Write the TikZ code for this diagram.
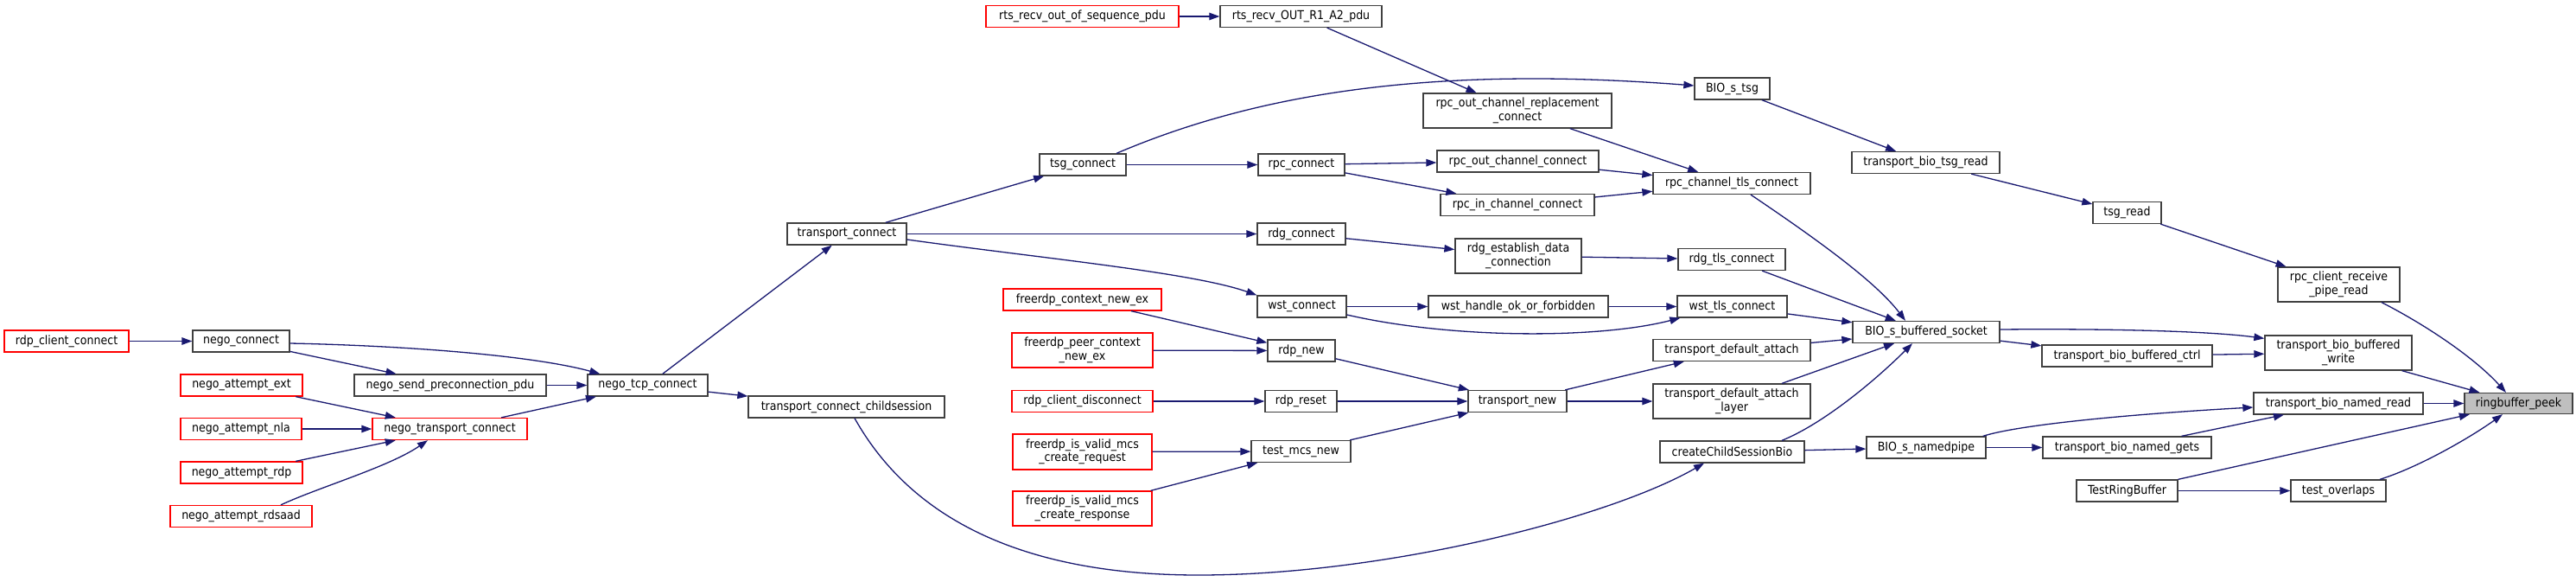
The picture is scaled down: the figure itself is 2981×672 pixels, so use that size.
\documentclass[tikz,border=0pt]{standalone}
\usepackage{fontspec}
\newfontfamily\fnfamily{DejaVu Sans Condensed}
\usetikzlibrary{arrows.meta,calc}
\definecolor{edgeblue}{HTML}{191970}
\definecolor{boxgrey}{HTML}{404040}
\definecolor{rootfill}{HTML}{BFBFBF}
\tikzset{
  fn/.style={draw=boxgrey, fill=white, line width=1.3pt, inner sep=0pt, align=center,
    minimum height=25pt, font=\fnfamily\fontsize{14}{15.5}\selectfont},
  fnred/.style={fn, draw=red},
  fnroot/.style={fn, fill=rootfill},
  call/.style={draw=edgeblue, line width=1.3pt, -{Triangle[length=12pt,width=8.5pt]}},
}
\begin{document}
\begin{tikzpicture}[x=1pt,y=-1pt]
\useasboundingbox (0,0) rectangle (2981,672);
% rank 12..9
\node[fnred, minimum width=144pt] (rcc) at (77,394.5) {rdp\_client\_connect};
\node[fn, minimum width=112pt] (nc) at (279,394.5) {nego\_connect};
\node[fnred, minimum width=141pt] (nae) at (279.5,445.5) {nego\_attempt\_ext};
\node[fnred, minimum width=140pt] (nan) at (279,496) {nego\_attempt\_nla};
\node[fnred, minimum width=141pt] (nar) at (279.5,546.5) {nego\_attempt\_rdp};
\node[fnred, minimum width=164pt] (nard) at (279,597) {nego\_attempt\_rdsaad};
\node[fn, minimum width=222pt] (nsp) at (521,445.5) {nego\_send\_preconnection\_pdu};
\node[fnred, minimum width=179pt] (ntrc) at (520.5,496) {nego\_transport\_connect};
\node[fn, minimum width=139pt] (ntc) at (749.5,445.5) {nego\_tcp\_connect};
% rank 8
\node[fn, minimum width=138pt] (tc) at (980,270.5) {transport\_connect};
\node[fn, minimum width=227pt] (tcc) at (979.5,470.5) {transport\_connect\_childsession};
% rank 7
\node[fnred, minimum width=223pt] (rtsoos) at (1252.5,19) {rts\_recv\_out\_of\_sequence\_pdu};
\node[fn, minimum width=100pt] (tsg) at (1253,190.5) {tsg\_connect};
\node[fnred, minimum width=183pt] (fcn) at (1252.5,346.5) {freerdp\_context\_new\_ex};
\node[fnred, minimum width=163pt, minimum height=40pt] (fpcn) at (1252.5,405) {freerdp\_peer\_context\\\_new\_ex};
\node[fnred, minimum width=163pt] (rcd) at (1252.5,464) {rdp\_client\_disconnect};
\node[fnred, minimum width=161pt, minimum height=41pt] (mreq) at (1252.5,522.5) {freerdp\_is\_valid\_mcs\\\_create\_request};
\node[fnred, minimum width=161pt, minimum height=40pt] (mres) at (1252.5,588) {freerdp\_is\_valid\_mcs\\\_create\_response};
% rank 6
\node[fn, minimum width=187pt] (rtsr1) at (1505.5,19) {rts\_recv\_OUT\_R1\_A2\_pdu};
\node[fn, minimum width=100pt] (rpcc) at (1506,190.5) {rpc\_connect};
\node[fn, minimum width=102pt] (rdgc) at (1506,270.5) {rdg\_connect};
\node[fn, minimum width=103pt] (wstc) at (1506.5,354.5) {wst\_connect};
\node[fn, minimum width=78pt] (rdpn) at (1506,405.5) {rdp\_new};
\node[fn, minimum width=83pt] (rdpr) at (1505.5,464) {rdp\_reset};
\node[fn, minimum width=115pt] (tmn) at (1505.5,522) {test\_mcs\_new};
% rank 5
\node[fn, minimum width=218pt, minimum height=40pt] (rocrc) at (1756,128) {rpc\_out\_channel\_replacement\\\_connect};
\node[fn, minimum width=187pt] (rocc) at (1756.5,186.5) {rpc\_out\_channel\_connect};
\node[fn, minimum width=178pt] (ricc) at (1756,237) {rpc\_in\_channel\_connect};
\node[fn, minimum width=146pt, minimum height=40pt] (rgedc) at (1757,296) {rdg\_establish\_data\\\_connection};
\node[fn, minimum width=208pt] (wsth) at (1757,354.5) {wst\_handle\_ok\_or\_forbidden};
\node[fn, minimum width=114pt] (tn) at (1756,464) {transport\_new};
% rank 4
\node[fn, minimum width=87pt] (biotsg) at (2004.5,102.5) {BIO\_s\_tsg};
\node[fn, minimum width=182pt] (rctc) at (2004,212) {rpc\_channel\_tls\_connect};
\node[fn, minimum width=124pt] (rgtc) at (2004,300) {rdg\_tls\_connect};
\node[fn, minimum width=127pt] (wstt) at (2004.5,354.5) {wst\_tls\_connect};
\node[fn, minimum width=182pt] (tda) at (2004,405) {transport\_default\_attach};
\node[fn, minimum width=182pt, minimum height=40pt] (tdal) at (2004,464) {transport\_default\_attach\\\_layer};
\node[fn, minimum width=167pt] (ccsb) at (2004.5,522.5) {createChildSessionBio};
% rank 3
\node[fn, minimum width=171pt] (tbtr) at (2228.5,188) {transport\_bio\_tsg\_read};
\node[fn, minimum width=170pt] (bbs) at (2229,384) {BIO\_s\_buffered\_socket};
\node[fn, minimum width=138pt] (bnp) at (2229,517.5) {BIO\_s\_namedpipe};
% rank 2
\node[fn, minimum width=79pt] (tsgr) at (2461.5,246) {tsg\_read};
\node[fn, minimum width=197pt] (tbbc) at (2461.5,411.5) {transport\_bio\_buffered\_ctrl};
\node[fn, minimum width=195pt] (tbng) at (2461.5,517.5) {transport\_bio\_named\_gets};
\node[fn, minimum width=117pt] (trb) at (2461.5,567.5) {TestRingBuffer};
% rank 1
\node[fn, minimum width=141pt, minimum height=40pt] (rcrp) at (2706.5,329) {rpc\_client\_receive\\\_pipe\_read};
\node[fn, minimum width=170pt, minimum height=40pt] (tbbw) at (2706,408) {transport\_bio\_buffered\\\_write};
\node[fn, minimum width=196pt] (tbnr) at (2706,466.5) {transport\_bio\_named\_read};
\node[fn, minimum width=110pt] (tov) at (2706,567.5) {test\_overlaps};
% rank 0
\node[fnroot, minimum width=125pt, minimum height=24pt] (rb) at (2914.5,466.5) {ringbuffer\_peek};

% edges
\draw[call] (rcc) -- (nc);
\draw[call] ($(nc.east)+(0,2.5)$) .. controls (480,400) and (620,412) .. ($(ntc.north west)+(15,0)$);
\draw[call] (nc) -- (nsp);
\draw[call] (nsp) -- (ntc);
\draw[call] (nae) -- (ntrc);
\draw[call] (nan) -- (ntrc);
\draw[call] (nar) -- (ntrc);
\draw[call] ($(nard.north)+(46,0)$) .. controls (370,563) and (450,540) .. ($(ntrc.south)+(-25.5,0)$);
\draw[call] (ntrc) -- (ntc);
\draw[call] (ntc) -- (tc);
\draw[call] (ntc) -- (tcc);
\draw[call] (tc) -- (tsg);
\draw[call] (tc) -- (rdgc);
\draw[call] ($(tc.east)+(0,6.5)$) .. controls (1200,298) and (1380,315) .. (wstc.north west);
\draw[call] (tsg) -- (rpcc);
\draw[call] ($(tsg.north)+(39,0)$) .. controls (1450,110) and (1650,75) .. ($(biotsg.west)+(0,-3.5)$);
\draw[call] (rpcc) -- (rocc);
\draw[call] (rpcc) -- (ricc);
\draw[call] (rtsoos) -- (rtsr1);
\draw[call] (rtsr1) -- (rocrc);
\draw[call] (rocrc) -- (rctc);
\draw[call] (rocc) -- (rctc);
\draw[call] (ricc) -- (rctc);
\draw[call] (rdgc) -- (rgedc);
\draw[call] (rgedc) -- (rgtc);
\draw[call] (wstc) -- (wsth);
\draw[call] (wsth) -- (wstt);
\draw[call] ($(wstc.east)+(0,9.5)$) .. controls (1680,392) and (1850,392) .. ($(wstt.south west)+(4,0)$);
\draw[call] (fcn) -- (rdpn);
\draw[call] (fpcn) -- (rdpn);
\draw[call] (rdpn) -- (tn);
\draw[call] (rcd) -- (rdpr);
\draw[call] (rdpr) -- (tn);
\draw[call] (mreq) -- (tmn);
\draw[call] (mres) -- (tmn);
\draw[call] (tmn) -- (tn);
\draw[call] (tn) -- (tda);
\draw[call] (tn) -- (tdal);
\draw[call] ($(tcc.south)+(9.5,0)$) .. controls (1060,610) and (1200,665) .. (1387,665)
   .. controls (1600,665) and (1860,600) .. ($(ccsb.south)+(-32.5,0)$);
\draw[call] (biotsg) -- (tbtr);
\draw[call] (tbtr) -- (tsgr);
\draw[call] (tsgr) -- (rcrp);
\draw[call] ($(rcrp.south)+(49.5,0)$) .. controls (2800,372) and (2860,410) .. ($(rb.north)+(-14.5,0)$);
\draw[call] ($(rctc.south)+(22,0)$) .. controls (2100,275) and (2170,325) .. ($(bbs.north)+(-24,0)$);
\draw[call] (rgtc) -- (bbs);
\draw[call] (wstt) -- (bbs);
\draw[call] (tda) -- (bbs);
\draw[call] (tdal) -- (bbs);
\draw[call] ($(ccsb.north)+(57.5,0)$) .. controls (2110,490) and (2170,440) .. ($(bbs.south)+(-16,0)$);
\draw[call] (ccsb) -- (bnp);
\draw[call] ($(bbs.east)+(0,-3)$) .. controls (2420,380) and (2550,382) .. ($(tbbw.north west)+(0,4)$);
\draw[call] (bbs) -- (tbbc);
\draw[call] (tbbc) -- (tbbw);
\draw[call] (tbbw) -- (rb);
\draw[call] ($(bnp.north east)+(-4,0)$) .. controls (2340,490) and (2480,478) .. ($(tbnr.west)+(0,4.5)$);
\draw[call] (bnp) -- (tbng);
\draw[call] (tbng) -- (tbnr);
\draw[call] (tbnr) -- (rb);
\draw[call] (trb) -- (rb);
\draw[call] (trb) -- (tov);
\draw[call] ($(tov.north)+(48,0)$) .. controls (2800,540) and (2860,505) .. ($(rb.south)+(-18.5,0)$);
\end{tikzpicture}
\end{document}
